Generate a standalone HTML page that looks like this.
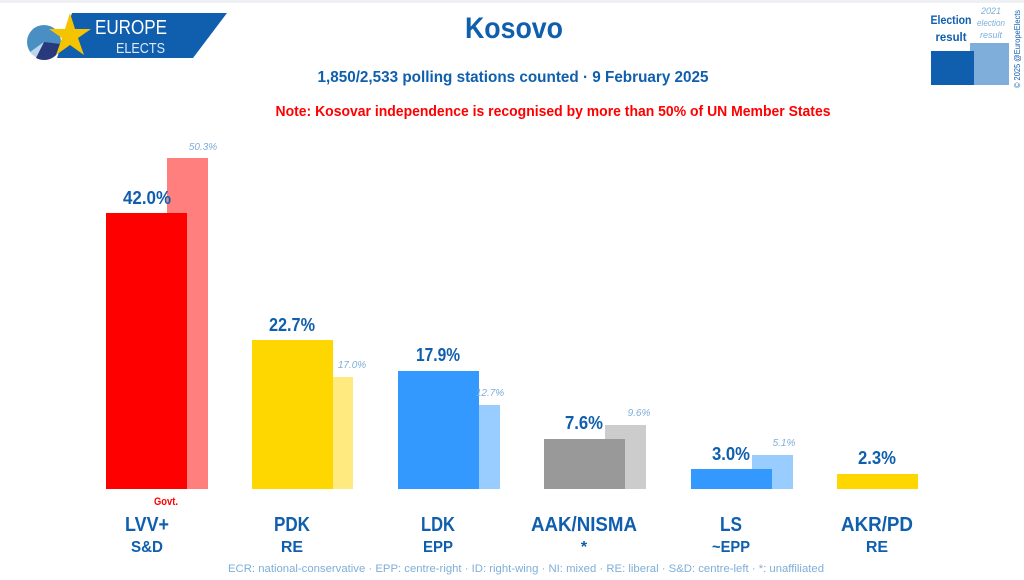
<!DOCTYPE html>
<html><head><meta charset="utf-8"><style>
html,body{margin:0;padding:0;background:#fff;}
svg{display:block;font-family:"Liberation Sans",sans-serif;}
</style></head><body>
<svg width="1024" height="580" viewBox="0 0 1024 580" xmlns="http://www.w3.org/2000/svg">
<rect x="0" y="0" width="1024" height="580" fill="#fff"/>
<rect x="0" y="0" width="1024" height="3" fill="#eef0f4"/>
<!-- logo -->
<polygon points="72,13 227,13 193,58 57,58" fill="#0f5fae"/>
<circle cx="44" cy="42" r="17" fill="#4a8fc4"/>
<path d="M44,42 L44,59 A17,17 0 0 1 30,52 Z" fill="#bcd6ec"/>
<path d="M44,42 L61,44 A17,17 0 0 1 36,58 Z" fill="#283a7c"/>
<polygon points="70,13 75,29 91,29 78,38 84,55 70,45 56,55 62,38 49,29 65,29" fill="#f5c400"/>
<text x="95" y="34" font-size="20" fill="#fff" textLength="72" lengthAdjust="spacingAndGlyphs">EUROPE</text>
<text x="116" y="53" font-size="15" fill="#dfe9f5" textLength="49" lengthAdjust="spacingAndGlyphs">ELECTS</text>
<!-- titles -->
<text x="514" y="38" text-anchor="middle" font-size="30" font-weight="bold" fill="#0f5fae" textLength="98" lengthAdjust="spacingAndGlyphs">Kosovo</text>
<text x="513" y="82" text-anchor="middle" font-size="16" font-weight="bold" fill="#0f5fae" textLength="391" lengthAdjust="spacingAndGlyphs">1,850/2,533 polling stations counted · 9 February 2025</text>
<text x="553" y="116" text-anchor="middle" font-size="15" font-weight="bold" fill="#ff0000" textLength="555" lengthAdjust="spacingAndGlyphs">Note: Kosovar independence is recognised by more than 50% of UN Member States</text>
<!-- legend -->
<rect x="970" y="43" width="39" height="42" fill="#7eaed9"/>
<rect x="931" y="51" width="43" height="34" fill="#0f5fae"/>
<text x="951" y="24" text-anchor="middle" font-size="12" font-weight="bold" fill="#0f5fae" textLength="41" lengthAdjust="spacingAndGlyphs">Election</text>
<text x="951" y="41" text-anchor="middle" font-size="12" font-weight="bold" fill="#0f5fae" textLength="31" lengthAdjust="spacingAndGlyphs">result</text>
<text x="991" y="14" text-anchor="middle" font-size="9" font-style="italic" fill="#7eaed9">2021</text>
<text x="991" y="26" text-anchor="middle" font-size="9" font-style="italic" fill="#7eaed9" textLength="28" lengthAdjust="spacingAndGlyphs">election</text>
<text x="991" y="38" text-anchor="middle" font-size="9" font-style="italic" fill="#7eaed9">result</text>
<text transform="translate(1020,88) rotate(-90)" font-size="8" fill="#0f5fae" textLength="78" lengthAdjust="spacingAndGlyphs">© 2025 @EuropeElects</text>
<!-- bars -->
<rect x="167" y="158" width="41" height="331" fill="#ff7f7f"/>
<rect x="106" y="213" width="81" height="276" fill="#ff0000"/>
<rect x="333" y="377" width="20" height="112" fill="#ffea80"/>
<rect x="252" y="340" width="81" height="149" fill="#ffd700"/>
<rect x="479" y="405" width="21" height="84" fill="#99ccff"/>
<rect x="398" y="371" width="81" height="118" fill="#3399ff"/>
<rect x="605" y="425" width="41" height="64" fill="#cccccc"/>
<rect x="544" y="439" width="81" height="50" fill="#999999"/>
<rect x="752" y="455" width="41" height="34" fill="#99ccff"/>
<rect x="691" y="469" width="81" height="20" fill="#3399ff"/>
<rect x="837" y="474" width="81" height="15" fill="#ffd700"/>
<!-- value labels -->
<g font-size="18" font-weight="bold" fill="#0f5fae" text-anchor="middle">
<text x="147" y="204" textLength="48" lengthAdjust="spacingAndGlyphs">42.0%</text>
<text x="292" y="331" textLength="46" lengthAdjust="spacingAndGlyphs">22.7%</text>
<text x="438" y="361" textLength="44" lengthAdjust="spacingAndGlyphs">17.9%</text>
<text x="584" y="429" textLength="38" lengthAdjust="spacingAndGlyphs">7.6%</text>
<text x="731" y="460" textLength="38" lengthAdjust="spacingAndGlyphs">3.0%</text>
<text x="877" y="464" textLength="38" lengthAdjust="spacingAndGlyphs">2.3%</text>
</g>
<g font-size="10" font-style="italic" fill="#7eaed9" text-anchor="middle">
<text x="203" y="150">50.3%</text>
<text x="352" y="368">17.0%</text>
<text x="490" y="396">12.7%</text>
<text x="639" y="416">9.6%</text>
<text x="784" y="446">5.1%</text>
</g>
<text x="166" y="505" text-anchor="middle" font-size="11" font-weight="bold" fill="#ff0000" textLength="24" lengthAdjust="spacingAndGlyphs">Govt.</text>
<g font-size="20" font-weight="bold" fill="#0f5fae" text-anchor="middle">
<text x="147" y="531" textLength="44" lengthAdjust="spacingAndGlyphs">LVV+</text>
<text x="292" y="531" textLength="36" lengthAdjust="spacingAndGlyphs">PDK</text>
<text x="438" y="531" textLength="34" lengthAdjust="spacingAndGlyphs">LDK</text>
<text x="584" y="531" textLength="106" lengthAdjust="spacingAndGlyphs">AAK/NISMA</text>
<text x="731" y="531" textLength="22" lengthAdjust="spacingAndGlyphs">LS</text>
<text x="877" y="531" textLength="72" lengthAdjust="spacingAndGlyphs">AKR/PD</text>
</g>
<g font-size="16" font-weight="bold" fill="#0f5fae" text-anchor="middle">
<text x="147" y="552" textLength="32" lengthAdjust="spacingAndGlyphs">S&amp;D</text>
<text x="292" y="552">RE</text>
<text x="438" y="552" textLength="30" lengthAdjust="spacingAndGlyphs">EPP</text>
<text x="584" y="552">*</text>
<text x="731" y="552" textLength="38" lengthAdjust="spacingAndGlyphs">~EPP</text>
<text x="877" y="552">RE</text>
</g>
<text x="526" y="572" text-anchor="middle" font-size="11" fill="#7eaed9" textLength="596" lengthAdjust="spacingAndGlyphs">ECR: national-conservative · EPP: centre-right · ID: right-wing · NI: mixed · RE: liberal · S&amp;D: centre-left · *: unaffiliated</text>
</svg>
</body></html>
